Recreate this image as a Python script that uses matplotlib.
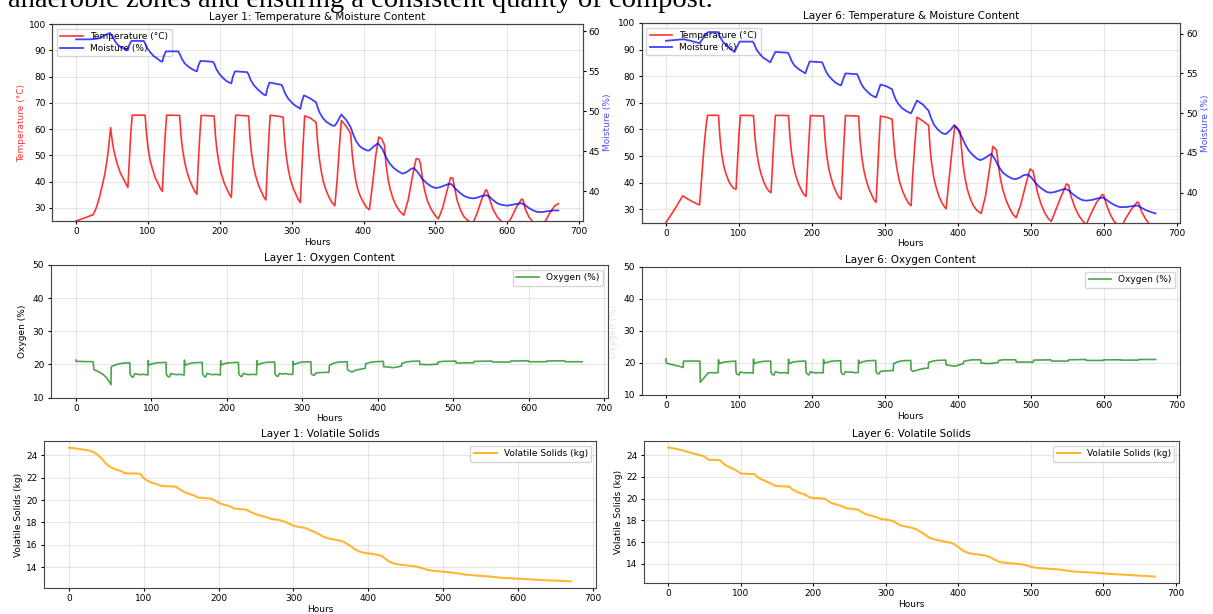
import matplotlib
matplotlib.use("Agg")
import matplotlib.pyplot as plt

# ---- data: (hour, value) vertices ----
L1_TEMP = [(0, 25.0), (6, 25.6), (12, 26.2), (18, 26.8), (24, 27.5), (28, 30), (32, 33.5),
           (36, 38), (40, 43), (44, 50), (48, 60.5), (50, 56), (52, 52.5), (55, 49), (58, 46),
           (62, 43), (66, 41), (69, 39.3), (72, 37.8), (74, 48), (76, 58), (78, 65.3),
           (96, 65.3), (98, 58), (100, 53), (103, 48), (106, 45), (110, 41.5), (114, 39.3),
           (117, 37.5), (120, 36.3), (122, 48), (124, 58), (126, 65.3), (144, 65.2), (146, 57.5),
           (148, 52.5), (151, 47.5), (154, 44), (158, 40.5), (162, 38), (165, 36.3), (168, 35.2),
           (170, 47), (172, 57), (174, 65.2), (192, 65.0), (194, 57), (196, 52), (199, 46.5),
           (202, 43), (206, 39.5), (210, 37), (213, 35.3), (216, 34.0), (218, 46), (220, 56.5),
           (222, 65.3), (240, 65.0), (242, 56.5), (244, 51), (247, 45.5), (250, 42), (254, 38.5),
           (258, 36), (261, 34.2), (264, 33.0), (266, 45), (268, 56), (270, 65.2), (280, 65.0),
           (288, 64.5), (290, 56), (292, 50.5), (295, 45), (298, 41), (302, 37.5), (306, 35),
           (309, 33.2), (312, 32.0), (314, 44), (316, 55), (318, 65.0), (326, 64.2), (334, 62.5),
           (336, 55), (338, 49.5), (341, 44), (344, 40), (348, 36.5), (352, 34), (356, 32),
           (360, 30.8), (363, 40), (366, 52), (369, 63.3), (376, 61), (382, 58.3), (384, 51),
           (386, 46), (389, 40.5), (392, 37), (396, 34), (400, 32), (404, 30.2), (408, 29.3),
           (412, 38), (417, 50), (421, 57), (425, 56.3), (429, 54), (431, 47), (434, 41),
           (437, 37), (441, 33.5), (445, 31), (450, 28.8), (456, 27.2), (462, 33), (468, 42),
           (473, 48.7), (477, 48.5), (479, 47), (482, 41), (485, 36.5), (489, 32.5), (494, 29.5),
           (499, 27.3), (504, 25.8), (510, 30), (516, 36.5), (521, 41.5), (524, 41.3), (526, 38.5),
           (530, 33), (535, 29), (540, 26.5), (546, 25), (552, 24.2), (558, 28), (564, 33),
           (570, 36.9), (572, 36.5), (575, 33.5), (580, 29.5), (586, 26.5), (592, 24.8),
           (600, 23.5), (606, 26.5), (613, 30.5), (620, 33.4), (622, 33), (625, 29.5), (630, 26.5),
           (636, 24.5), (642, 23.5), (648, 23), (654, 25.5), (660, 28.5), (666, 30.8), (671, 31.6)]

L1_MOIST = [(0, 59.0), (10, 59.0), (20, 59.0), (30, 59.1), (36, 59.3), (42, 59.6), (47, 59.8),
            (50, 59.4), (54, 58.8), (58, 58.3), (63, 58.0), (68, 57.8), (72, 57.7), (74, 58.3),
            (77, 58.8), (94, 58.8), (96, 58.5), (99, 57.9), (103, 57.4), (108, 56.9), (113, 56.6),
            (117, 56.3), (120, 56.2), (122, 56.9), (125, 57.5), (142, 57.5), (144, 57.2),
            (147, 56.6), (151, 56.0), (156, 55.6), (161, 55.3), (165, 55.1), (168, 55.0),
            (170, 55.7), (173, 56.3), (190, 56.2), (192, 56.0), (195, 55.3), (199, 54.7),
            (204, 54.2), (209, 53.8), (213, 53.6), (216, 53.5), (218, 54.3), (221, 55.0),
            (238, 54.9), (240, 54.6), (243, 53.9), (247, 53.3), (252, 52.8), (257, 52.4),
            (261, 52.1), (264, 52.0), (266, 52.8), (269, 53.6), (286, 53.3), (288, 52.9),
            (291, 52.2), (295, 51.6), (300, 51.1), (305, 50.7), (309, 50.5), (312, 50.3),
            (314, 51.2), (317, 52.0), (326, 51.6), (334, 51.1), (336, 50.5), (339, 49.8),
            (343, 49.2), (348, 48.7), (353, 48.4), (357, 48.2), (360, 48.2), (363, 48.6),
            (369, 49.6), (376, 48.9), (382, 48.0), (386, 47.0), (390, 46.2), (395, 45.6),
            (400, 45.3), (405, 45.1), (408, 45.1), (414, 45.6), (420, 46.0), (426, 45.3),
            (431, 44.3), (436, 43.5), (442, 42.9), (448, 42.5), (454, 42.2), (460, 42.4),
            (466, 42.8), (470, 42.9), (476, 42.3), (482, 41.5), (488, 41.0), (494, 40.6),
            (500, 40.4), (506, 40.5), (512, 40.7), (518, 40.9), (522, 40.9), (528, 40.3),
            (534, 39.8), (540, 39.4), (546, 39.2), (552, 39.1), (558, 39.2), (564, 39.4),
            (570, 39.5), (574, 39.4), (580, 38.9), (586, 38.5), (592, 38.3), (600, 38.2),
            (606, 38.3), (612, 38.4), (620, 38.5), (624, 38.3), (630, 37.9), (636, 37.6),
            (642, 37.4), (648, 37.4), (656, 37.5), (664, 37.6), (671, 37.6)]

L6_TEMP = [(0, 25.0), (6, 27.5), (12, 30.0), (18, 32.8), (23, 35.0), (30, 33.8), (38, 32.6),
           (46, 31.6), (49, 42), (52, 53), (55, 61.5), (57, 65.3), (72, 65.3), (74, 57),
           (76, 51.5), (79, 46.5), (82, 43.5), (86, 40.5), (90, 38.7), (93, 37.8), (96, 37.5),
           (98, 48), (100, 58), (102, 65.3), (120, 65.2), (122, 57), (124, 52), (127, 47),
           (130, 43.5), (134, 40.3), (138, 38), (141, 36.8), (144, 36.2), (146, 47), (148, 57),
           (150, 65.3), (168, 65.2), (170, 56.8), (172, 51.3), (175, 46), (178, 42.5),
           (182, 39.3), (186, 37), (189, 35.6), (192, 34.8), (194, 46), (196, 56), (198, 65.2),
           (216, 65.0), (218, 56.5), (220, 51), (223, 45.5), (226, 42), (230, 38.5), (234, 36),
           (237, 34.5), (240, 33.7), (242, 45), (244, 55.5), (246, 65.2), (264, 65.0), (266, 56),
           (268, 50.5), (271, 45), (274, 41.3), (278, 37.8), (282, 35.3), (285, 33.5),
           (288, 32.6), (290, 44), (292, 55), (294, 65.0), (302, 64.6), (310, 63.8), (312, 56),
           (314, 50), (317, 44.5), (320, 40.5), (324, 37), (328, 34.5), (332, 32.4), (336, 31.3),
           (338, 42), (341, 54), (344, 64.6), (352, 63.2), (360, 61.5), (362, 53), (364, 47.5),
           (367, 42), (370, 38.5), (374, 35), (378, 32.5), (382, 30.8), (384, 30.2), (388, 41),
           (392, 52), (396, 61.4), (403, 59.3), (405, 53), (407, 47), (410, 41.5), (413, 37.5),
           (417, 34), (421, 31.5), (426, 29.6), (432, 28.4), (438, 35), (444, 46), (448, 53.6),
           (453, 52.3), (455, 48), (458, 42), (462, 37), (467, 32.8), (472, 29.8), (476, 27.9),
           (480, 26.8), (486, 31.5), (493, 39), (499, 45.1), (503, 44.4), (505, 42), (509, 36.5),
           (514, 32), (519, 28.7), (524, 26.5), (528, 25.4), (534, 29.5), (542, 35), (549, 39.5),
           (552, 39.0), (555, 35), (560, 31), (566, 27.5), (572, 25.3), (576, 24.2), (582, 28),
           (590, 32.5), (598, 35.5), (600, 35.2), (604, 31.5), (609, 28), (614, 25.5),
           (620, 23.8), (624, 23.2), (630, 26.5), (638, 30), (646, 32.7), (648, 32.4), (652, 29),
           (657, 26.5), (662, 24.6), (667, 23.2), (671, 22.4)]

L6_MOIST = [(0, 59.1), (12, 59.2), (24, 59.3), (34, 59.1), (42, 58.9), (46, 58.8), (50, 59.3),
            (54, 59.9), (58, 60.2), (71, 60.2), (74, 59.6), (78, 59.0), (83, 58.5), (88, 58.1),
            (94, 57.7), (97, 58.3), (101, 59.0), (119, 59.0), (121, 58.7), (124, 58.0),
            (128, 57.5), (133, 57.0), (138, 56.7), (143, 56.4), (146, 57.0), (150, 57.7),
            (167, 57.6), (169, 57.3), (172, 56.6), (176, 56.0), (181, 55.6), (186, 55.3),
            (191, 55.0), (194, 55.8), (197, 56.5), (214, 56.4), (216, 56.0), (219, 55.3),
            (223, 54.7), (228, 54.2), (233, 53.8), (237, 53.6), (240, 53.5), (243, 54.3),
            (246, 55.0), (262, 54.9), (264, 54.5), (267, 53.8), (271, 53.2), (276, 52.7),
            (281, 52.3), (285, 52.1), (288, 52.0), (291, 52.8), (294, 53.6), (302, 53.4),
            (310, 53.0), (312, 52.4), (315, 51.7), (319, 51.1), (324, 50.6), (329, 50.3),
            (333, 50.1), (336, 50.0), (340, 50.8), (344, 51.6), (352, 51.1), (360, 50.3),
            (363, 49.5), (367, 48.6), (372, 48.0), (377, 47.6), (381, 47.4), (384, 47.4),
            (390, 47.9), (395, 48.5), (400, 48.0), (405, 47.1), (410, 46.1), (415, 45.3),
            (420, 44.8), (426, 44.3), (431, 44.1), (436, 44.3), (441, 44.6), (446, 44.9),
            (451, 44.2), (456, 43.3), (462, 42.5), (468, 42.1), (474, 41.8), (479, 41.7),
            (485, 41.9), (490, 42.2), (496, 42.3), (501, 41.9), (506, 41.3), (511, 40.8),
            (517, 40.4), (522, 40.1), (527, 40.0), (533, 40.1), (540, 40.3), (547, 40.5),
            (552, 40.3), (558, 39.8), (564, 39.4), (570, 39.1), (576, 39.0), (584, 39.1),
            (592, 39.3), (599, 39.4), (604, 39.1), (610, 38.7), (616, 38.4), (622, 38.2),
            (630, 38.2), (638, 38.3), (646, 38.4), (652, 38.1), (658, 37.8), (664, 37.6),
            (671, 37.4)]

L1_OXY = [(0, 21.3), (0.5, 20.9), (23, 20.8), (24, 18.4), (30, 17.8), (36, 17.0), (41, 15.9),
          (45, 14.5), (46.5, 13.9), (47, 19.3), (52, 19.8), (58, 20.2), (64, 20.4), (71.5, 20.5),
          (72, 17.0), (74, 16.3), (76, 16.1), (78, 17.2), (82, 17.0), (86, 16.9), (90, 17.0),
          (95.5, 16.8), (96, 21.2), (96.5, 19.8), (102, 20.2), (108, 20.5), (119.5, 20.6),
          (120, 17.0), (122, 16.3), (124, 16.2), (126, 17.2), (130, 17.0), (134, 16.9),
          (138, 17.0), (143.5, 16.8), (144, 21.3), (144.5, 19.7), (150, 20.2), (156, 20.5),
          (167.5, 20.6), (168, 17.0), (170, 16.4), (172, 16.2), (174, 17.3), (178, 17.0),
          (182, 16.9), (186, 17.0), (191.5, 16.8), (192, 21.1), (192.5, 19.8), (198, 20.3),
          (204, 20.5), (215.5, 20.6), (216, 17.1), (218, 16.5), (220, 16.3), (222, 17.3),
          (226, 17.0), (230, 16.9), (234, 17.0), (239.5, 16.9), (240, 21.1), (240.5, 19.9),
          (246, 20.3), (252, 20.6), (263.5, 20.7), (264, 17.1), (266, 16.5), (268, 16.4),
          (270, 17.3), (274, 17.1), (278, 17.2), (282, 17.0), (287.5, 17.0), (288, 20.9),
          (288.5, 19.9), (294, 20.4), (300, 20.7), (311.5, 20.8), (312, 17.2), (314, 16.8),
          (316, 16.7), (318, 17.4), (324, 17.5), (330, 17.6), (335.5, 17.6), (336, 19.7),
          (342, 20.4), (348, 20.7), (359.5, 20.8), (360, 18.4), (363, 18.0), (366, 17.7),
          (370, 18.2), (376, 18.5), (383.5, 18.8), (384, 20.2), (390, 20.6), (396, 20.8),
          (407.5, 20.9), (408, 19.3), (414, 19.2), (420, 19.0), (426, 19.2), (431.5, 19.5),
          (432, 20.3), (438, 20.7), (444, 20.9), (455.5, 21.0), (456, 20.0), (468, 19.9),
          (479.5, 20.1), (480, 20.7), (486, 20.9), (503.5, 21.0), (504, 20.4), (527.5, 20.5),
          (528, 20.9), (551.5, 21.0), (552, 20.7), (575.5, 20.7), (576, 21.0), (599.5, 21.1),
          (600, 20.8), (623.5, 20.8), (624, 21.0), (647.5, 21.1), (648, 20.8), (671, 20.8)]

L6_OXY = [(0, 21.3), (0.5, 20.0), (6, 19.6), (12, 19.3), (18, 19.0), (23.5, 18.6), (24, 20.6),
          (46.5, 20.6), (47, 14.0), (49, 14.6), (52, 15.3), (55, 16.2), (58, 16.9), (62, 17.0),
          (66, 16.9), (71.5, 17.0), (72, 21.0), (72.5, 19.8), (78, 20.2), (84, 20.4),
          (95.5, 20.6), (96, 17.1), (98, 16.4), (100, 16.3), (102, 17.2), (106, 17.0),
          (110, 16.9), (114, 17.0), (119.5, 16.8), (120, 21.2), (120.5, 19.8), (126, 20.2),
          (132, 20.5), (143.5, 20.6), (144, 17.0), (146, 16.4), (148, 16.2), (150, 17.3),
          (154, 17.0), (158, 16.9), (162, 17.0), (167.5, 16.8), (168, 21.2), (168.5, 19.8),
          (174, 20.3), (180, 20.5), (191.5, 20.6), (192, 17.1), (194, 16.5), (196, 16.3),
          (198, 17.3), (202, 17.0), (206, 16.9), (210, 17.0), (215.5, 16.9), (216, 21.1),
          (216.5, 19.9), (222, 20.3), (228, 20.6), (239.5, 20.7), (240, 17.1), (242, 16.5),
          (244, 16.4), (246, 17.3), (250, 17.1), (254, 17.2), (258, 17.0), (263.5, 17.0),
          (264, 20.9), (264.5, 19.9), (270, 20.4), (276, 20.7), (287.5, 20.8), (288, 17.2),
          (290, 16.7), (292, 16.6), (294, 17.4), (300, 17.5), (306, 17.6), (311.5, 17.6),
          (312, 19.8), (318, 20.4), (324, 20.7), (335.5, 20.8), (336, 17.8), (339, 17.4),
          (342, 17.6), (348, 18.0), (354, 18.3), (359.5, 18.4), (360, 20.2), (366, 20.6),
          (372, 20.8), (383.5, 20.9), (384, 19.4), (390, 19.2), (396, 19.0), (402, 19.4),
          (407.5, 19.8), (408, 20.5), (414, 20.8), (420, 21.0), (431.5, 21.0), (432, 20.0),
          (440, 19.8), (448, 19.9), (455.5, 20.2), (456, 20.8), (462, 21.0), (479.5, 21.0),
          (480, 20.3), (503.5, 20.3), (504, 20.9), (527.5, 21.0), (528, 20.6), (551.5, 20.6),
          (552, 21.0), (575.5, 21.1), (576, 20.8), (599.5, 20.8), (600, 21.0), (623.5, 21.0),
          (624, 20.9), (647.5, 20.9), (648, 21.1), (671, 21.1)]

L1_VS = [(0, 24.68), (10, 24.6), (20, 24.5), (27, 24.42), (33, 24.28), (38, 24.05), (43, 23.75),
         (48, 23.35), (53, 23.05), (58, 22.85), (64, 22.7), (71, 22.55), (74, 22.4), (80, 22.38),
         (90, 22.37), (95, 22.35), (100, 21.95), (105, 21.72), (110, 21.55), (116, 21.45),
         (120, 21.35), (124, 21.25), (130, 21.23), (138, 21.22), (143, 21.18), (148, 20.95),
         (153, 20.75), (158, 20.6), (163, 20.5), (168, 20.38), (172, 20.22), (180, 20.18),
         (190, 20.12), (195, 19.95), (200, 19.75), (206, 19.6), (212, 19.5), (217, 19.38),
         (220, 19.25), (226, 19.2), (233, 19.17), (238, 19.1), (244, 18.9), (250, 18.72),
         (256, 18.6), (262, 18.5), (267, 18.4), (270, 18.3), (280, 18.22), (286, 18.12),
         (292, 17.95), (298, 17.75), (305, 17.62), (312, 17.55), (318, 17.45), (322, 17.3),
         (328, 17.15), (334, 16.95), (340, 16.72), (346, 16.58), (352, 16.5), (358, 16.42),
         (364, 16.35), (370, 16.15), (376, 15.9), (382, 15.6), (388, 15.4), (394, 15.28),
         (400, 15.22), (406, 15.18), (412, 15.1), (418, 15.0), (422, 14.8), (428, 14.5),
         (434, 14.32), (440, 14.25), (448, 14.18), (456, 14.12), (464, 14.05), (470, 13.95),
         (476, 13.82), (482, 13.72), (490, 13.65), (498, 13.6), (506, 13.55), (514, 13.5),
         (522, 13.42), (530, 13.32), (540, 13.27), (550, 13.22), (560, 13.18), (570, 13.1),
         (580, 13.04), (590, 13.0), (600, 12.97), (610, 12.93), (620, 12.89), (630, 12.85),
         (640, 12.82), (650, 12.79), (660, 12.76), (671, 12.73)]

L6_VS = [(0, 24.7), (12, 24.55), (20, 24.42), (28, 24.27), (36, 24.12), (44, 23.98), (50, 23.87),
         (53, 23.7), (56, 23.56), (64, 23.55), (71, 23.53), (74, 23.35), (78, 23.1), (84, 22.9),
         (90, 22.72), (96, 22.5), (100, 22.3), (110, 22.27), (119, 22.25), (122, 22.05),
         (126, 21.85), (131, 21.7), (136, 21.55), (141, 21.4), (146, 21.22), (150, 21.15),
         (160, 21.12), (167, 21.1), (170, 20.9), (175, 20.7), (180, 20.55), (185, 20.45),
         (190, 20.32), (195, 20.1), (200, 20.07), (210, 20.03), (216, 19.98), (220, 19.78),
         (225, 19.6), (230, 19.5), (236, 19.38), (242, 19.22), (246, 19.1), (254, 19.07),
         (262, 18.98), (266, 18.8), (271, 18.62), (276, 18.5), (282, 18.4), (288, 18.28),
         (294, 18.12), (300, 18.08), (306, 18.0), (312, 17.88), (318, 17.62), (324, 17.48),
         (330, 17.4), (336, 17.32), (342, 17.18), (348, 16.95), (354, 16.7), (360, 16.42),
         (366, 16.27), (372, 16.17), (378, 16.1), (384, 16.02), (390, 15.95), (396, 15.75),
         (402, 15.45), (408, 15.15), (414, 15.0), (420, 14.93), (426, 14.87), (432, 14.82),
         (438, 14.76), (444, 14.62), (450, 14.4), (456, 14.2), (462, 14.12), (470, 14.07),
         (478, 14.03), (486, 13.98), (492, 13.9), (498, 13.78), (504, 13.68), (512, 13.62),
         (520, 13.58), (530, 13.53), (540, 13.48), (548, 13.4), (556, 13.32), (566, 13.27),
         (576, 13.23), (586, 13.2), (596, 13.15), (606, 13.1), (616, 13.06), (626, 13.02),
         (636, 12.98), (646, 12.94), (656, 12.9), (664, 12.87), (671, 12.84)]

PAGE_TEXT = "anaerobic zones and ensuring a consistent quality of compost."

W, H = 1213, 614
FS = 6.5

fig = plt.figure(figsize=(W / 100, H / 100), dpi=100)


def box(x0, x1, y0, y1):
    # pixel box (left, right, top, bottom) -> figure fraction rect
    return [x0 / W, 1 - y1 / H, (x1 - x0) / W, (y1 - y0) / H]


def xy(pts):
    return [p[0] for p in pts], [p[1] for p in pts]


def style(ax, title):
    ax.set_title(title, fontsize=7.5, pad=3)
    ax.set_xlabel("Hours", fontsize=FS, labelpad=1)
    ax.tick_params(labelsize=FS, length=2.5, pad=2)
    ax.grid(True, alpha=0.3)
    for s in ax.spines.values():
        s.set_color("#444444")


def temp_panel(rect, layer, temp, moist, left_label=None, left_color=None):
    ax = fig.add_axes(rect)
    h, t = xy(temp)
    l1, = ax.plot(h, t, color="red", alpha=0.8, lw=1.2, label="Temperature (°C)")
    ax.set_ylim(25, 100)
    if left_label:
        ax.set_ylabel(left_label, color=left_color, fontsize=FS, labelpad=2)
    style(ax, f"Layer {layer}: Temperature & Moisture Content")
    ax2 = ax.twinx()
    h, m = xy(moist)
    l2, = ax2.plot(h, m, color="blue", alpha=0.75, lw=1.3, label="Moisture (%)")
    ax2.set_ylabel("Moisture (%)", color="blue", alpha=0.7, fontsize=FS, labelpad=2)
    ax2.tick_params(labelsize=FS, length=2.5, pad=2)
    for s in ax2.spines.values():
        s.set_color("#444444")
    ax.legend([l1, l2], [l1.get_label(), l2.get_label()], loc="upper left",
              fontsize=FS, handlelength=2.5, borderpad=0.4, labelspacing=0.3)


def oxy_panel(rect, layer, oxy, label_alpha=1.0):
    ax = fig.add_axes(rect)
    h, o = xy(oxy)
    ax.plot(h, o, color="green", alpha=0.7, lw=1.2, label="Oxygen (%)")
    ax.set_ylim(10, 50)
    ax.set_ylabel("Oxygen (%)", fontsize=FS, labelpad=4, alpha=label_alpha)
    ax.legend(loc="upper right", fontsize=FS, handlelength=2.5)
    style(ax, f"Layer {layer}: Oxygen Content")


def vs_panel(rect, layer, vs):
    ax = fig.add_axes(rect)
    h, v = xy(vs)
    ax.plot(h, v, color="orange", alpha=0.8, lw=1.5, label="Volatile Solids (kg)")
    ax.set_ylabel("Volatile Solids (kg)", fontsize=FS, labelpad=2)
    ax.legend(loc="upper right", fontsize=FS, handlelength=2.5)
    style(ax, f"Layer {layer}: Volatile Solids")


# right-hand figure first so the left one sits on top of it
# (its left "Moisture (%)" label is hidden under the left figure in the screenshot)
temp_panel(box(641.5, 1180, 23, 222.5), 6, L6_TEMP, L6_MOIST)
oxy_panel(box(641.5, 1180, 267, 395), 6, L6_OXY, label_alpha=0.12)
vs_panel(box(644, 1179, 441, 583), 6, L6_VS)

temp_panel(box(52, 582.5, 24, 221), 1, L1_TEMP, L1_MOIST, "Temperature (°C)", (1, 0, 0, 0.8))
oxy_panel(box(50.5, 607.5, 265, 397.5), 1, L1_OXY)
vs_panel(box(44, 596, 441, 588), 1, L1_VS)

# page text of the document, cut off by the screenshot's top edge
fig.text(8 / W, 1 - 7 / H, PAGE_TEXT, family="Liberation Serif", fontsize=20.5,
         va="baseline", ha="left", color="black")

fig.savefig("out.png", dpi=100)
